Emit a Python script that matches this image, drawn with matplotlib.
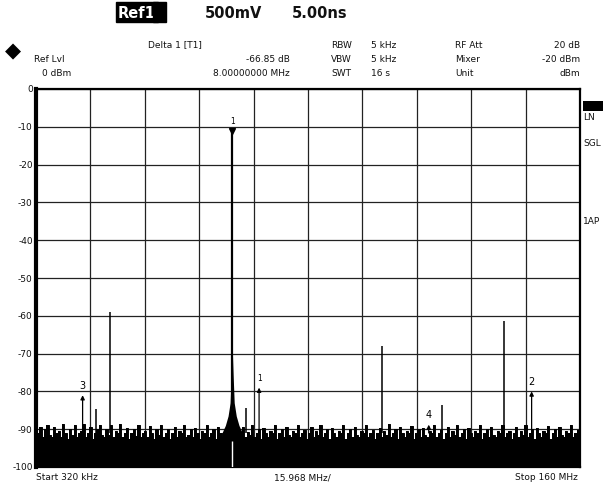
import matplotlib
matplotlib.use("Agg")
import matplotlib.pyplot as plt
import numpy as np

# spectrum analyser screen: 320 kHz .. 160 MHz, ref 0 dBm, 10 dB/div
f_start, f_stop = 0.32, 160.0
ref_lvl, bottom_lvl = 0, -100
ytick_vals = [0, -10, -20, -30, -40, -50, -60, -70, -80, -90, -100]

# discrete spurs (MHz, dBm)
spur_freq = [14.0, 18.0, 21.95, 62.0, 101.8, 119.5, 137.7]
spur_level = [-88.5, -84.7, -58.9, -84.5, -68.0, -83.7, -61.3]

# carrier (marker 1) and its noise skirt
carrier_f, carrier_lvl = 57.9, -10.6
skirt_off = [-3.0, -2.0, -1.2, -0.6, -0.3, 0.0, 0.3, 0.6, 1.2, 2.0, 3.0]
skirt_lvl = [-91, -89, -86.5, -83, -76, -68, -76, -83, -86.5, -89, -91]

# noise floor envelope (top of the filled trace), read across the span
noise_top = [
    -88.5, -91, -89.5, -92, -90, -88.8, -91.5, -92, -89.5, -91, -90.5, -92, -88.7, -91, -92.5,
    -90, -91.5, -89, -92, -91, -90.5, -88.5, -92, -91, -89.5, -92.5, -91, -90, -88.8, -91.5,
    -92, -90, -91.5, -89, -92, -90.5, -91, -88.6, -92, -91, -89.8, -92.5, -91, -90, -91.8,
    -89, -92, -91, -90.5, -92, -89.2, -91, -92.5, -90, -91.5, -88.9, -92, -91, -90, -92.5,
    -91, -89.5, -92, -90.5, -91, -88.8, -92, -91.5, -90, -92, -89.6, -91, -92.5, -90.5, -91,
    -89, -92, -91, -90, -92.5, -89.5, -91, -92, -90.5, -91.5, -89.2, -92, -91, -90, -92.5,
    -91, -89.4, -92, -90.8, -91.5, -88.9, -92, -91, -90, -92.5, -89.8, -91, -92, -90.5, -91,
    -89, -92.5, -91, -90, -92, -89.5, -91.5, -92, -90.5, -91, -88.8, -92, -91, -90.2, -92.5,
    -91, -89.3, -92, -90.5, -91.5, -89, -92, -91, -90, -92.5, -89.7, -91, -92, -90.5, -91,
    -88.9, -92.5, -91, -90, -92, -89.4, -91.5, -92, -90.5, -91, -89, -92, -91, -90.3, -92.5,
    -91, -89.6, -92, -90.5, -91.5, -88.7, -92, -91, -90, -92.5, -89.5, -91, -92, -90.5, -91,
    -89.1, -92.5, -91, -90, -92, -89.6, -91.5, -92, -90.5, -91, -88.8, -92, -91, -90.1, -92.5,
    -91, -89.4, -92, -90.5, -91.5, -89, -92, -91, -90, -92.5, -89.8, -91, -92, -90.5, -91,
    -88.9, -92.5, -91, -90, -92, -89.3, -91.5, -92, -90.5, -91, -89, -92, -91, -90.4, -92.5,
    -91, -89.5, -92, -90.5, -91.5, -88.8, -92, -91, -90, -92.5, -89.6, -91, -92, -90.5, -91,
    -89.2, -92.5, -91, -90, -92, -89.5, -91.5, -92, -90.5, -91, -88.9, -92, -91, -90.2, -89.5,
]

# markers: (label, freq MHz, level dBm)
mark_lab = ["3", "1", "4", "2"]
mark_f = [14.0, 65.8, 115.6, 145.8]
mark_lvl = [-81.0, -79.0, -88.8, -80.0]

W, H = 606, 489
fig = plt.figure(figsize=(W / 100, H / 100), dpi=100)
ax = fig.add_axes([36 / W, 1 - 468 / H, 544 / W, 378 / H])
ax.set_xlim(f_start, f_stop); ax.set_ylim(bottom_lvl, ref_lvl)

step = (f_stop - f_start) / 10
ax.set_xticks([f_start + i * step for i in range(11)])
ax.set_yticks(ytick_vals)
ax.grid(True, color="#222222", lw=0.9)
ax.tick_params(length=0, labelbottom=False, labelleft=False)
for s in ["left", "right", "top", "bottom"]:
    ax.spines[s].set_linewidth(1.6)
ax.spines["left"].set_linewidth(3.0)

# noise floor: dense trace, drawn as a stepped fill
nf = np.linspace(f_start, f_stop, len(noise_top))
ax.fill_between(nf, bottom_lvl, noise_top, step="mid", color="black", lw=0, zorder=3)
ax.step(nf, noise_top, where="mid", color="black", lw=0.7, zorder=3)

# carrier skirt + carrier line
sk_f = [carrier_f + o for o in skirt_off]
ax.fill_between(sk_f, bottom_lvl, skirt_lvl, color="black", lw=0, zorder=3)
ax.vlines(carrier_f, bottom_lvl, carrier_lvl, color="black", lw=1.6, zorder=4)
ax.vlines(carrier_f, bottom_lvl, -93, color="white", lw=1.0, zorder=5)
ax.plot(carrier_f, carrier_lvl - 0.5, marker="v", color="black", ms=4, zorder=6)
ax.text(carrier_f, carrier_lvl + 1.2, "1", fontsize=5.5, ha="center", va="bottom", zorder=6)

# spurs
ax.vlines(spur_freq, -91, spur_level, color="black", lw=1.1, zorder=4)

# markers
for lab, f, lv in zip(mark_lab, mark_f, mark_lvl):
    ax.annotate("", xy=(f, lv), xytext=(f, -91),
                arrowprops=dict(arrowstyle="-|>", color="black", lw=0.9,
                                mutation_scale=6, shrinkA=0, shrinkB=0), zorder=6)
    ax.text(f, lv + 1.5, lab, fontsize=7 if lab != "1" else 5.5, ha="center", va="bottom",
            zorder=6)

# y labels
for v in ytick_vals:
    ax.text(-0.006, (v - bottom_lvl) / 100, f"{v}", transform=ax.transAxes,
            ha="right", va="center", fontsize=6.5, color="#111111")

def ft(x, y, s, **kw):
    kw.setdefault("fontsize", 6.5)
    kw.setdefault("color", "#111111")
    kw.setdefault("va", "center")
    fig.text(x / W, 1 - y / H, s, **kw)

# top header
ft(118, 13, "Ref1", fontsize=10.5, weight="bold", color="white",
   bbox=dict(boxstyle="square,pad=0.15", fc="black", ec="black"))
ft(155, 13, "  ", fontsize=10.5, bbox=dict(boxstyle="square,pad=0.15", fc="black", ec="black"))
ft(205, 13, "500mV", fontsize=10.5, weight="bold")
ft(292, 13, "5.00ns", fontsize=10.5, weight="bold")

# logo
ft(13, 51, "\u25C6", fontsize=15, ha="center", color="black")

ft(148, 45, "Delta 1 [T1]")
ft(290, 59, "-66.85 dB", ha="right")
ft(290, 73, "8.00000000 MHz", ha="right")
ft(34, 59, "Ref Lvl")
ft(42, 73, "0 dBm")

for i, (a, b) in enumerate([("RBW", "5 kHz"), ("VBW", "5 kHz"), ("SWT", "16 s")]):
    ft(331, 45 + 14 * i, a)
    ft(371, 45 + 14 * i, b)
for i, (a, b) in enumerate([("RF Att", "20 dB"), ("Mixer", "-20 dBm"), ("Unit", "dBm")]):
    ft(455, 45 + 14 * i, a)
    ft(580, 45 + 14 * i, b, ha="right")

# right side annotations
fig.patches.append(plt.Rectangle((583 / W, 1 - 112 / H), 20 / W, 10 / H, fc="black",
                                 transform=fig.transFigure, figure=fig))
ft(583, 118, "LN")
ft(583, 143, "SGL")
ft(583, 222, "1AP")

# bottom
ft(36, 478, "Start 320 kHz")
ft(302, 478, "15.968 MHz/", ha="center")
ft(578, 478, "Stop 160 MHz", ha="right")

fig.savefig("out.png", dpi=100, facecolor="white")
